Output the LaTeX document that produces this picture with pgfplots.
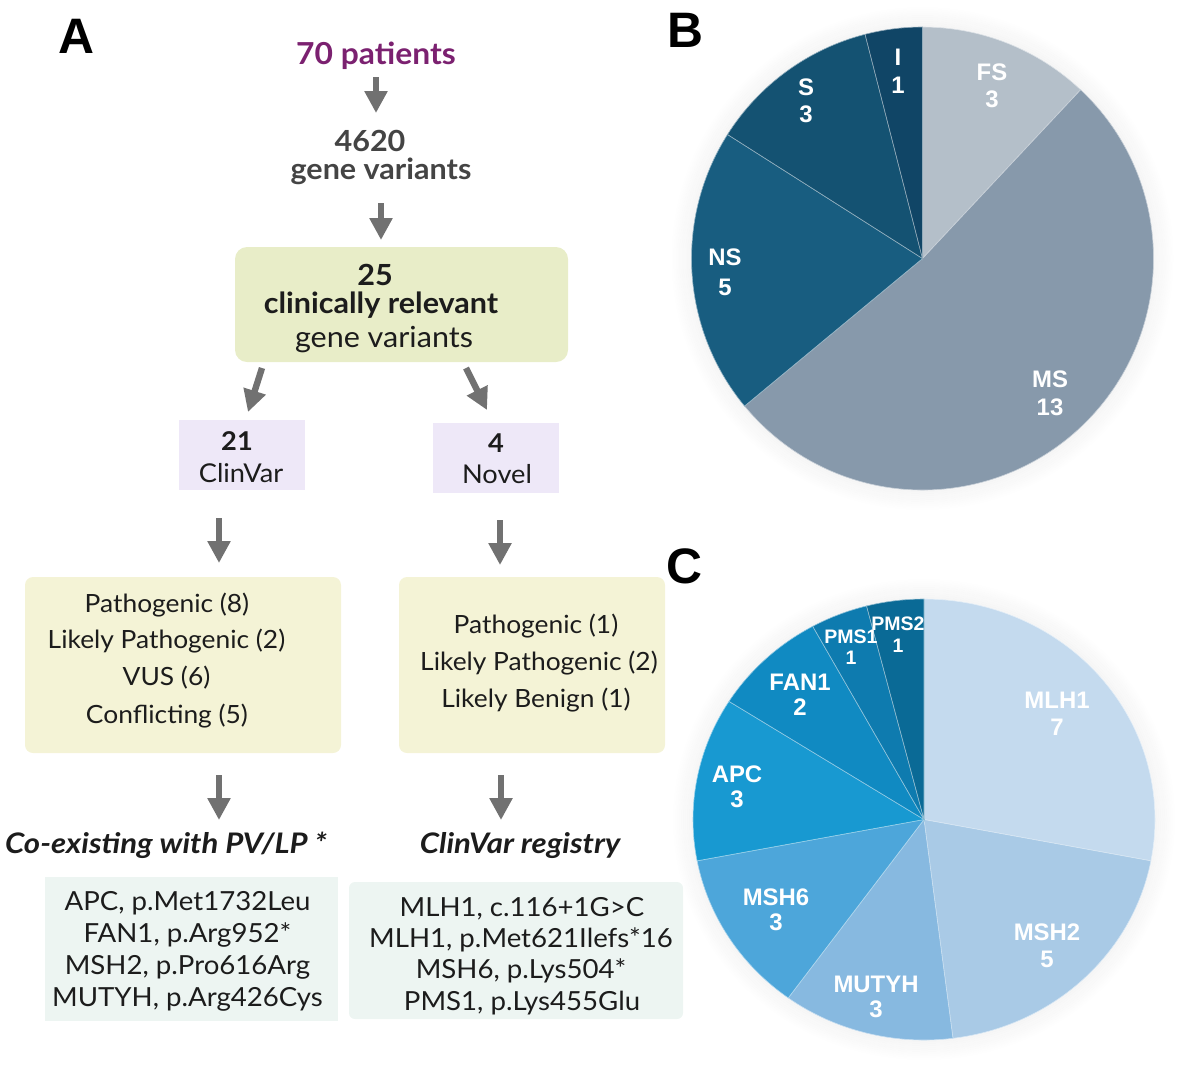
\documentclass[border=0pt]{standalone}
\usepackage{fontspec}
\setmainfont{Lato}[FakeStretch=1.05]
\newfontfamily\headfont{Lato}[FakeStretch=1.1]
\newfontfamily\lab{Liberation Sans}
\usepackage{pgfplots}
\pgfplotsset{compat=1.18}
\usetikzlibrary{arrows.meta}

\definecolor{arr}{HTML}{717171}
\definecolor{purp}{HTML}{7B2170}
\definecolor{greenbox}{HTML}{E8EDC8}
\definecolor{lilac}{HTML}{EEE8F8}
\definecolor{cream}{HTML}{F4F3D6}
\definecolor{mint}{HTML}{EDF5F2}
\definecolor{txt}{HTML}{1C1C1C}
\definecolor{grey4620}{HTML}{444444}
% panel B
\definecolor{cFS}{HTML}{B4BFC9}
\definecolor{cMS}{HTML}{8799AB}
\definecolor{cNS}{HTML}{185D80}
\definecolor{cS}{HTML}{145272}
\definecolor{cI}{HTML}{104566}
% panel C
\definecolor{cMLH}{HTML}{C4DAEE}
\definecolor{cMSHtwo}{HTML}{A9CAE6}
\definecolor{cMUT}{HTML}{87B9E0}
\definecolor{cMSHsix}{HTML}{4DA6DA}
\definecolor{cAPC}{HTML}{1899D1}
\definecolor{cFAN}{HTML}{108AC2}
\definecolor{cPMSone}{HTML}{0E7BAF}
\definecolor{cPMStwo}{HTML}{0A6A96}

% slice from cumulative count #1 to #2 out of #3, clockwise from 12 o'clock
\newcommand{\slice}[4]{%
  \fill[#4, draw=white!55!#4, line width=0.3pt] (axis cs:0,0)
    -- (axis cs:{cos(90-360*#1/#3)},{sin(90-360*#1/#3)})
    arc[start angle={90-360*#1/#3}, end angle={90-360*#2/#3},
        x radius=\rx, y radius=\ry] -- cycle;}

\newcommand{\plab}[6]{% x, base1, base2, size, name, count
  \node[anchor=base, inner sep=0pt, white, font=\lab\bfseries\fontsize{#4}{#4}\selectfont] at (#1,-#2) {#5};
  \node[anchor=base, inner sep=0pt, white, font=\lab\bfseries\fontsize{#4}{#4}\selectfont] at (#1,-#3) {#6};}

% soft glow round a pie: centre, x radius, y radius (picture units)
\newcommand{\glow}[3]{%
  \foreach \i in {1,...,10} {
    \draw[black, opacity={0.04*(1-\i/11)}, line width=1bp]
      #1 ellipse [x radius={#2+2*\i-1}, y radius={#3+2*\i-1}];}}

\tikzset{
  t/.style={anchor=base, inner sep=0pt, text=txt},
  flow/.style={draw=arr, line width=3.2bp, -{Triangle[width=11bp,length=11bp]}},
  body/.style={t, font=\fontsize{12.6}{14}\selectfont},
  list/.style={t, font=\fontsize{13.2}{15}\selectfont},
  big/.style={t, font=\fontsize{14.6}{16}\selectfont},
  bigb/.style={t, font=\bfseries\fontsize{14.6}{16}\selectfont},
  mid/.style={t, font=\fontsize{13}{15}\selectfont},
  midb/.style={t, font=\bfseries\fontsize{13}{15}\selectfont},
  head/.style={t, font=\headfont\bfseries\itshape\fontsize{14.2}{15}\selectfont},
  panel/.style={anchor=base, inner sep=0pt, font=\lab\bfseries\fontsize{25}{25}\selectfont},
}

\begin{document}
\begin{tikzpicture}[x=0.5bp, y=0.5bp]
\path[use as bounding box] (0,0) rectangle (1200,-1087);

% ---------- panel A ----------
\node[panel] at (76,-53) {A};
\node[bigb, text=purp, font=\bfseries\fontsize{15.2}{16}\selectfont] at (376,-64) {70 patients};
\draw[flow] (376,-77) -- (376,-113);
\node[bigb, text=grey4620] at (370,-151) {4620};
\node[bigb, text=grey4620] at (381,-179) {gene variants};
\draw[flow] (381,-203) -- (381,-240);

\fill[greenbox, rounded corners=6bp] (235,-247) rectangle (568,-362);
\node[bigb] at (375,-285) {25};
\node[bigb] at (381,-313) {clinically relevant};
\node[big] at (384,-347) {gene variants};

\draw[flow] (262,-368) -- (248,-412);
\draw[flow] (466,-368) -- (487,-410);

\fill[lilac] (179,-420) rectangle (305,-490);
\fill[lilac] (433,-423) rectangle (559,-493);
\node[midb] at (237,-450) {21};
\node[mid] at (241,-482) {ClinVar};
\node[midb] at (496,-452) {4};
\node[mid] at (497,-483) {Novel};

\draw[flow] (219,-518) -- (219,-563);
\draw[flow] (500,-520) -- (500,-565);

\fill[cream, rounded corners=4bp] (25,-577) rectangle (341,-753);
\fill[cream, rounded corners=4bp] (399,-577) rectangle (665,-753);
\node[body] at (167,-612) {Pathogenic (8)};
\node[body] at (166.5,-648) {Likely Pathogenic (2)};
\node[body] at (166.5,-685) {VUS (6)};
\node[body] at (167,-723) {Conflicting (5)};
\node[body] at (536,-633) {Pathogenic (1)};
\node[body] at (539,-670) {Likely Pathogenic (2)};
\node[body] at (536,-707) {Likely Benign (1)};

\draw[flow] (219,-775) -- (219,-820);
\draw[flow] (501,-775) -- (501,-820);

\node[head] at (166,-853) {Co-existing with PV/LP *};
\node[head] at (520,-853) {ClinVar registry};

\fill[mint] (45,-877) rectangle (338,-1021);
\fill[mint, rounded corners=3bp] (349,-882) rectangle (683,-1019);
\node[list] at (187.5,-910) {APC, p.Met1732Leu};
\node[list] at (187.5,-942) {FAN1, p.Arg952*};
\node[list] at (187.5,-974) {MSH2, p.Pro616Arg};
\node[list] at (187.5,-1006) {MUTYH, p.Arg426Cys};
\node[list] at (522,-916) {MLH1, c.116+1G>C};
\node[list] at (521,-947) {MLH1, p.Met621Ilefs*16};
\node[list] at (521,-978) {MSH6, p.Lys504*};
\node[list] at (522,-1010) {PMS1, p.Lys455Glu};

% ---------- panel B ----------
\node[panel] at (685,-47) {B};
\coordinate (pB) at (922.5,-258.5);
\glow{(pB)}{231}{231.5}
\def\rx{115.5bp}\def\ry{115.75bp}
\begin{axis}[at={(pB)}, anchor=center, scale only axis,
  width=231bp, height=231.5bp, xmin=-1, xmax=1, ymin=-1, ymax=1,
  hide axis, clip=false]
  % FS 3, MS 13, NS 5, S 3, I 1
  \slice{0}{3}{25}{cFS}
  \slice{3}{16}{25}{cMS}
  \slice{16}{21}{25}{cNS}
  \slice{21}{24}{25}{cS}
  \slice{24}{25}{25}{cI}
\end{axis}
\plab{992}{80}{107}{12}{FS}{3}
\plab{1050}{387}{415}{12}{MS}{13}
\plab{725}{265}{295}{12}{NS}{5}
\plab{806}{95}{122}{12}{S}{3}
\plab{898}{65}{93}{12}{I}{1}

% ---------- panel C ----------
\node[panel] at (684,-583) {C};
\coordinate (pC) at (924,-819.5);
\glow{(pC)}{231}{220.5}
\def\rx{115.5bp}\def\ry{110.25bp}
\begin{axis}[at={(pC)}, anchor=center, scale only axis,
  width=231bp, height=220.5bp, xmin=-1, xmax=1, ymin=-1, ymax=1,
  hide axis, clip=false]
  % MLH1 7, MSH2 5, MUTYH 3, MSH6 3, APC 3, FAN1 2, PMS1 1, PMS2 1
  \slice{0}{7}{25}{cMLH}
  \slice{7}{12}{25}{cMSHtwo}
  \slice{12}{15}{25}{cMUT}
  \slice{15}{18}{25}{cMSHsix}
  \slice{18}{21}{25}{cAPC}
  \slice{21}{23}{25}{cFAN}
  \slice{23}{24}{25}{cPMSone}
  \slice{24}{25}{25}{cPMStwo}
\end{axis}
\plab{1057}{708}{735}{12}{MLH1}{7}
\plab{1047}{940}{967}{12}{MSH2}{5}
\plab{876}{992}{1017}{12}{MUTYH}{3}
\plab{776}{905}{930}{12}{MSH6}{3}
\plab{737}{782}{807}{12}{APC}{3}
\plab{800}{690}{715}{12}{FAN1}{2}
\plab{851}{643}{664}{9.8}{PMS1}{1}
\plab{898}{630}{652}{9.8}{PMS2}{1}
\end{tikzpicture}
\end{document}
